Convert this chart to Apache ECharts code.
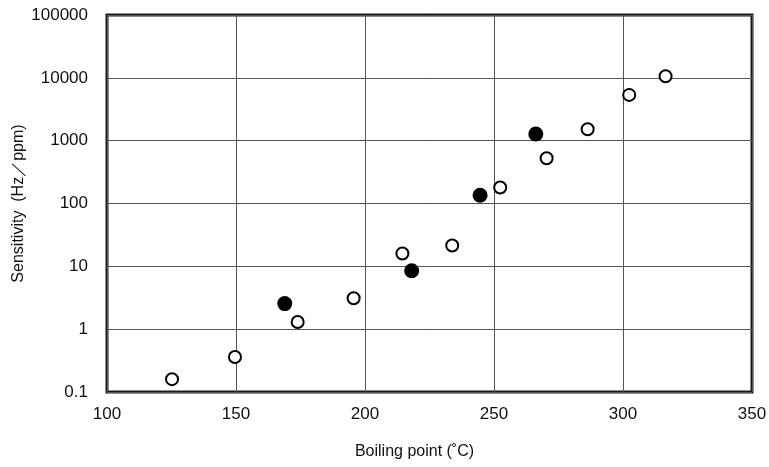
<!DOCTYPE html>
<html><head><meta charset="utf-8">
<script src="https://cdn.jsdelivr.net/npm/echarts@6/dist/echarts.min.js"></script>
<style>html,body{margin:0;padding:0;background:#fff}#c{width:769px;height:467px}</style>
</head><body><div id="c"></div>
<script>
const xTicks = [100, 150, 200, 250, 300, 350];
const yTicks = [0.1, 1, 10, 100, 1000, 10000, 100000];
const openX = [125.2, 149.6, 173.9, 195.6, 214.5, 233.8, 252.4, 270.4, 286.3, 302.4, 316.5];
const openY = [0.16, 0.36, 1.3, 3.1, 16, 21.5, 180, 525, 1520, 5350, 10600];
const filledX = [168.9, 218.1, 244.6, 266.2];
const filledY = [2.55, 8.5, 135, 1280];

const font = 'Liberation Sans, Arial, sans-serif';
const chart = echarts.init(document.getElementById('c'), null, {renderer: 'canvas'});
chart.setOption({
  animation: false,
  backgroundColor: '#fff',
  grid: {left: 107, right: 17, top: 15, bottom: 75, outerBoundsMode: 'none', containLabel: false,
    show: true, borderWidth: 3, borderColor: '#1a1a1a', backgroundColor: 'transparent'},
  xAxis: {
    type: 'value', min: xTicks[0], max: xTicks[xTicks.length - 1], interval: 50,
    name: 'Boiling point (˚C)', nameLocation: 'middle', nameGap: 52, nameMoveOverlap: false,
    nameTextStyle: {fontFamily: font, fontSize: 16, color: '#111', padding: [0, 30, 0, 0]},
    axisLine: {show: false}, axisTick: {show: false},
    axisLabel: {fontFamily: font, fontSize: 17, color: '#111', margin: 14},
    splitLine: {show: true, lineStyle: {color: '#555', width: 1}}
  },
  yAxis: {
    type: 'log', logBase: 10, min: yTicks[0], max: yTicks[yTicks.length - 1],
    name: 'Sensitivity  (Hz／ppm)', nameLocation: 'middle', nameGap: 80, nameMoveOverlap: false,
    nameTextStyle: {fontFamily: font, fontSize: 16, color: '#111'},
    axisLine: {show: false}, axisTick: {show: false},
    axisLabel: {fontFamily: font, fontSize: 17, color: '#111', margin: 19,
      formatter: v => { const r = yTicks.find(t => Math.abs(Math.log10(t) - Math.log10(v)) < 1e-6); return r !== undefined ? String(r) : ''; }},
    splitLine: {show: true, lineStyle: {color: '#555', width: 1}}
  },
  series: [
    {type: 'scatter', data: openX.map((x, i) => [x, openY[i]]), symbol: 'circle', symbolSize: 12,
     itemStyle: {color: '#fff', borderColor: '#000', borderWidth: 2, opacity: 1}, z: 3},
    {type: 'scatter', data: filledX.map((x, i) => [x, filledY[i]]), symbol: 'circle', symbolSize: 15,
     itemStyle: {color: '#000', borderWidth: 0, opacity: 1}, z: 4}
  ]
});
</script></body></html>
